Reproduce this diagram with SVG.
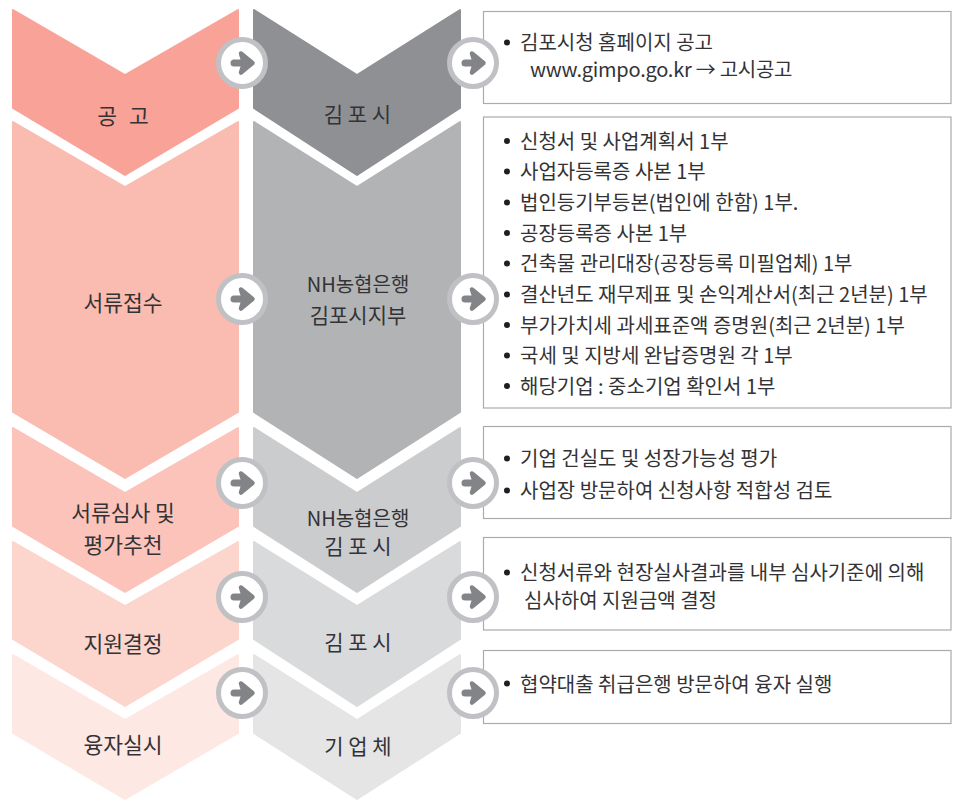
<svg xmlns="http://www.w3.org/2000/svg" width="967" height="801" viewBox="0 0 967 801">
<style>
text{font-family:"Noto Sans CJK KR","Noto Sans",sans-serif;fill:#333336}
.l{font-size:21.500px;text-anchor:middle}
.t{font-size:20px}
.b{fill:#fff;stroke:#a9abae;stroke-width:1.2}
.c{stroke:#bfc1c4;stroke-width:5;fill:#fff}
.a{fill:none;stroke:#838487;stroke-width:7;stroke-linecap:round;stroke-linejoin:round}
.h{fill:#838487;stroke:#838487;stroke-width:4.500;stroke-linejoin:round}
.d{fill:#1f1f22}
</style>
<defs>
<g id="arr"><circle class="c" r="23.500"/><path class="a" d="M-8 0H4"/><path class="h" d="M-1-9.500L10.500 0L-1 9.500L2 0Z"/></g>
</defs>
<g id="chevrons">
<g id="n1"><path fill="#f9a298" stroke="#f9a298" stroke-width="2" stroke-linejoin="round" d="M13 10L125 75L238 10V108L125 175L13 108Z"/><text class="l" x="123" y="124" style="word-spacing:7px">공 고</text></g>
<g id="n2"><path fill="#8f9094" stroke="#8f9094" stroke-width="2" stroke-linejoin="round" d="M254 10L357 75L460 10V108L357 175L254 108Z"/><text class="l" x="357.500" y="122" style="font-size:21px">김 포 시</text></g>
<g id="n3"><path fill="#fabbb1" stroke="#fabbb1" stroke-width="2" stroke-linejoin="round" d="M13 122L125 187L238 122V412L125 478L13 412Z"/><text class="l" x="123" y="311">서류접수</text></g>
<g id="n4"><path fill="#b2b3b5" stroke="#b2b3b5" stroke-width="2" stroke-linejoin="round" d="M254 122L357 187L460 122V412L357 478L254 412Z"/><text class="l" x="358" y="292" style="font-size:20px">NH농협은행</text><text class="l" x="358" y="323" style="font-size:21px">김포시지부</text></g>
<g id="n5"><path fill="#fbc3ba" stroke="#fbc3ba" stroke-width="2" stroke-linejoin="round" d="M13 428L125 493L238 428V526L125 592L13 526Z"/><text class="l" x="123" y="521">서류심사 및</text><text class="l" x="123" y="553">평가추천</text></g>
<g id="n6"><path fill="#cbccce" stroke="#cbccce" stroke-width="2" stroke-linejoin="round" d="M254 428L357 493L460 428V526L357 592L254 526Z"/><text class="l" x="358" y="526" style="font-size:20px">NH농협은행</text><text class="l" x="358" y="554" style="font-size:21px">김 포 시</text></g>
<g id="n7"><path fill="#fcd5cc" stroke="#fcd5cc" stroke-width="2" stroke-linejoin="round" d="M13 542L125 606L238 542V639L125 706L13 639Z"/><text class="l" x="123" y="652">지원결정</text></g>
<g id="n8"><path fill="#d9dadb" stroke="#d9dadb" stroke-width="2" stroke-linejoin="round" d="M254 542L357 606L460 542V639L357 706L254 639Z"/><text class="l" x="358" y="650" style="font-size:21px">김 포 시</text></g>
<g id="n9"><path fill="#fde8e3" stroke="#fde8e3" stroke-width="2" stroke-linejoin="round" d="M13 655L125 720L238 655V733L125 799L13 733Z"/><text class="l" x="123" y="753">융자실시</text></g>
<g id="n10"><path fill="#e5e5e6" stroke="#e5e5e6" stroke-width="2" stroke-linejoin="round" d="M254 655L357 720L460 655V733L357 799L254 733Z"/><text class="l" x="358" y="754" style="font-size:21px">기 업 체</text></g>
</g>
<g id="box1"><rect class="b" x="483.500" y="11.500" width="467.500" height="92"/>
<circle class="d" cx="507" cy="42.500" r="3"/><text class="t" x="520" y="49.500">김포시청 홈페이지 공고</text><text class="t" x="530" y="77" style="letter-spacing:-.25px">www.gimpo.go.kr → 고시공고</text></g>
<g id="box2"><rect class="b" x="483.500" y="117" width="467.500" height="291"/>
<circle class="d" cx="507" cy="141" r="3"/><text class="t" x="520" y="148.500">신청서 및 사업계획서 1부</text>
<circle class="d" cx="507" cy="171.500" r="3"/><text class="t" x="520" y="178.500">사업자등록증 사본 1부</text>
<circle class="d" cx="507" cy="202.500" r="3"/><text class="t" x="520" y="209.500">법인등기부등본(법인에 한함) 1부.</text>
<circle class="d" cx="507" cy="233" r="3"/><text class="t" x="520" y="240.500">공장등록증 사본 1부</text>
<circle class="d" cx="507" cy="263.500" r="3"/><text class="t" x="520" y="270.500">건축물 관리대장(공장등록 미필업체) 1부</text>
<circle class="d" cx="507" cy="294.500" r="3"/><text class="t" x="520" y="301.500">결산년도 재무제표 및 손익계산서(최근 2년분) 1부</text>
<circle class="d" cx="507" cy="325" r="3"/><text class="t" x="520" y="332.500">부가가치세 과세표준액 증명원(최근 2년분) 1부</text>
<circle class="d" cx="507" cy="355.500" r="3"/><text class="t" x="520" y="362.500">국세 및 지방세 완납증명원 각 1부</text>
<circle class="d" cx="507" cy="386" r="3"/><text class="t" x="520" y="393.500">해당기업 : 중소기업 확인서 1부</text></g>
<g id="box3"><rect class="b" x="483.500" y="426.500" width="467.500" height="92"/>
<circle class="d" cx="507" cy="458.500" r="3"/><text class="t" x="520" y="466">기업 건실도 및 성장가능성 평가</text>
<circle class="d" cx="507" cy="490.500" r="3"/><text class="t" x="520" y="498">사업장 방문하여 신청사항 적합성 검토</text></g>
<g id="box4"><rect class="b" x="483.500" y="537.500" width="467.500" height="92.500"/>
<circle class="d" cx="507" cy="572.500" r="3"/><text class="t" x="520" y="580">신청서류와 현장실사결과를 내부 심사기준에 의해</text><text class="t" x="524" y="607.500">심사하여 지원금액 결정</text></g>
<g id="box5"><rect class="b" x="483.500" y="650.500" width="467.500" height="73"/>
<circle class="d" cx="507" cy="683.500" r="3"/><text class="t" x="520" y="691.500">협약대출 취급은행 방문하여 융자 실행</text></g>
<g id="connectors">
<use href="#arr" x="242" y="63"/><use href="#arr" x="473" y="63"/>
<use href="#arr" x="242" y="299"/><use href="#arr" x="473" y="299"/>
<use href="#arr" x="242" y="483"/><use href="#arr" x="473" y="483"/>
<use href="#arr" x="242" y="597"/><use href="#arr" x="473" y="597"/>
<use href="#arr" x="242" y="693"/><use href="#arr" x="473" y="693"/>
</g>
</svg>
